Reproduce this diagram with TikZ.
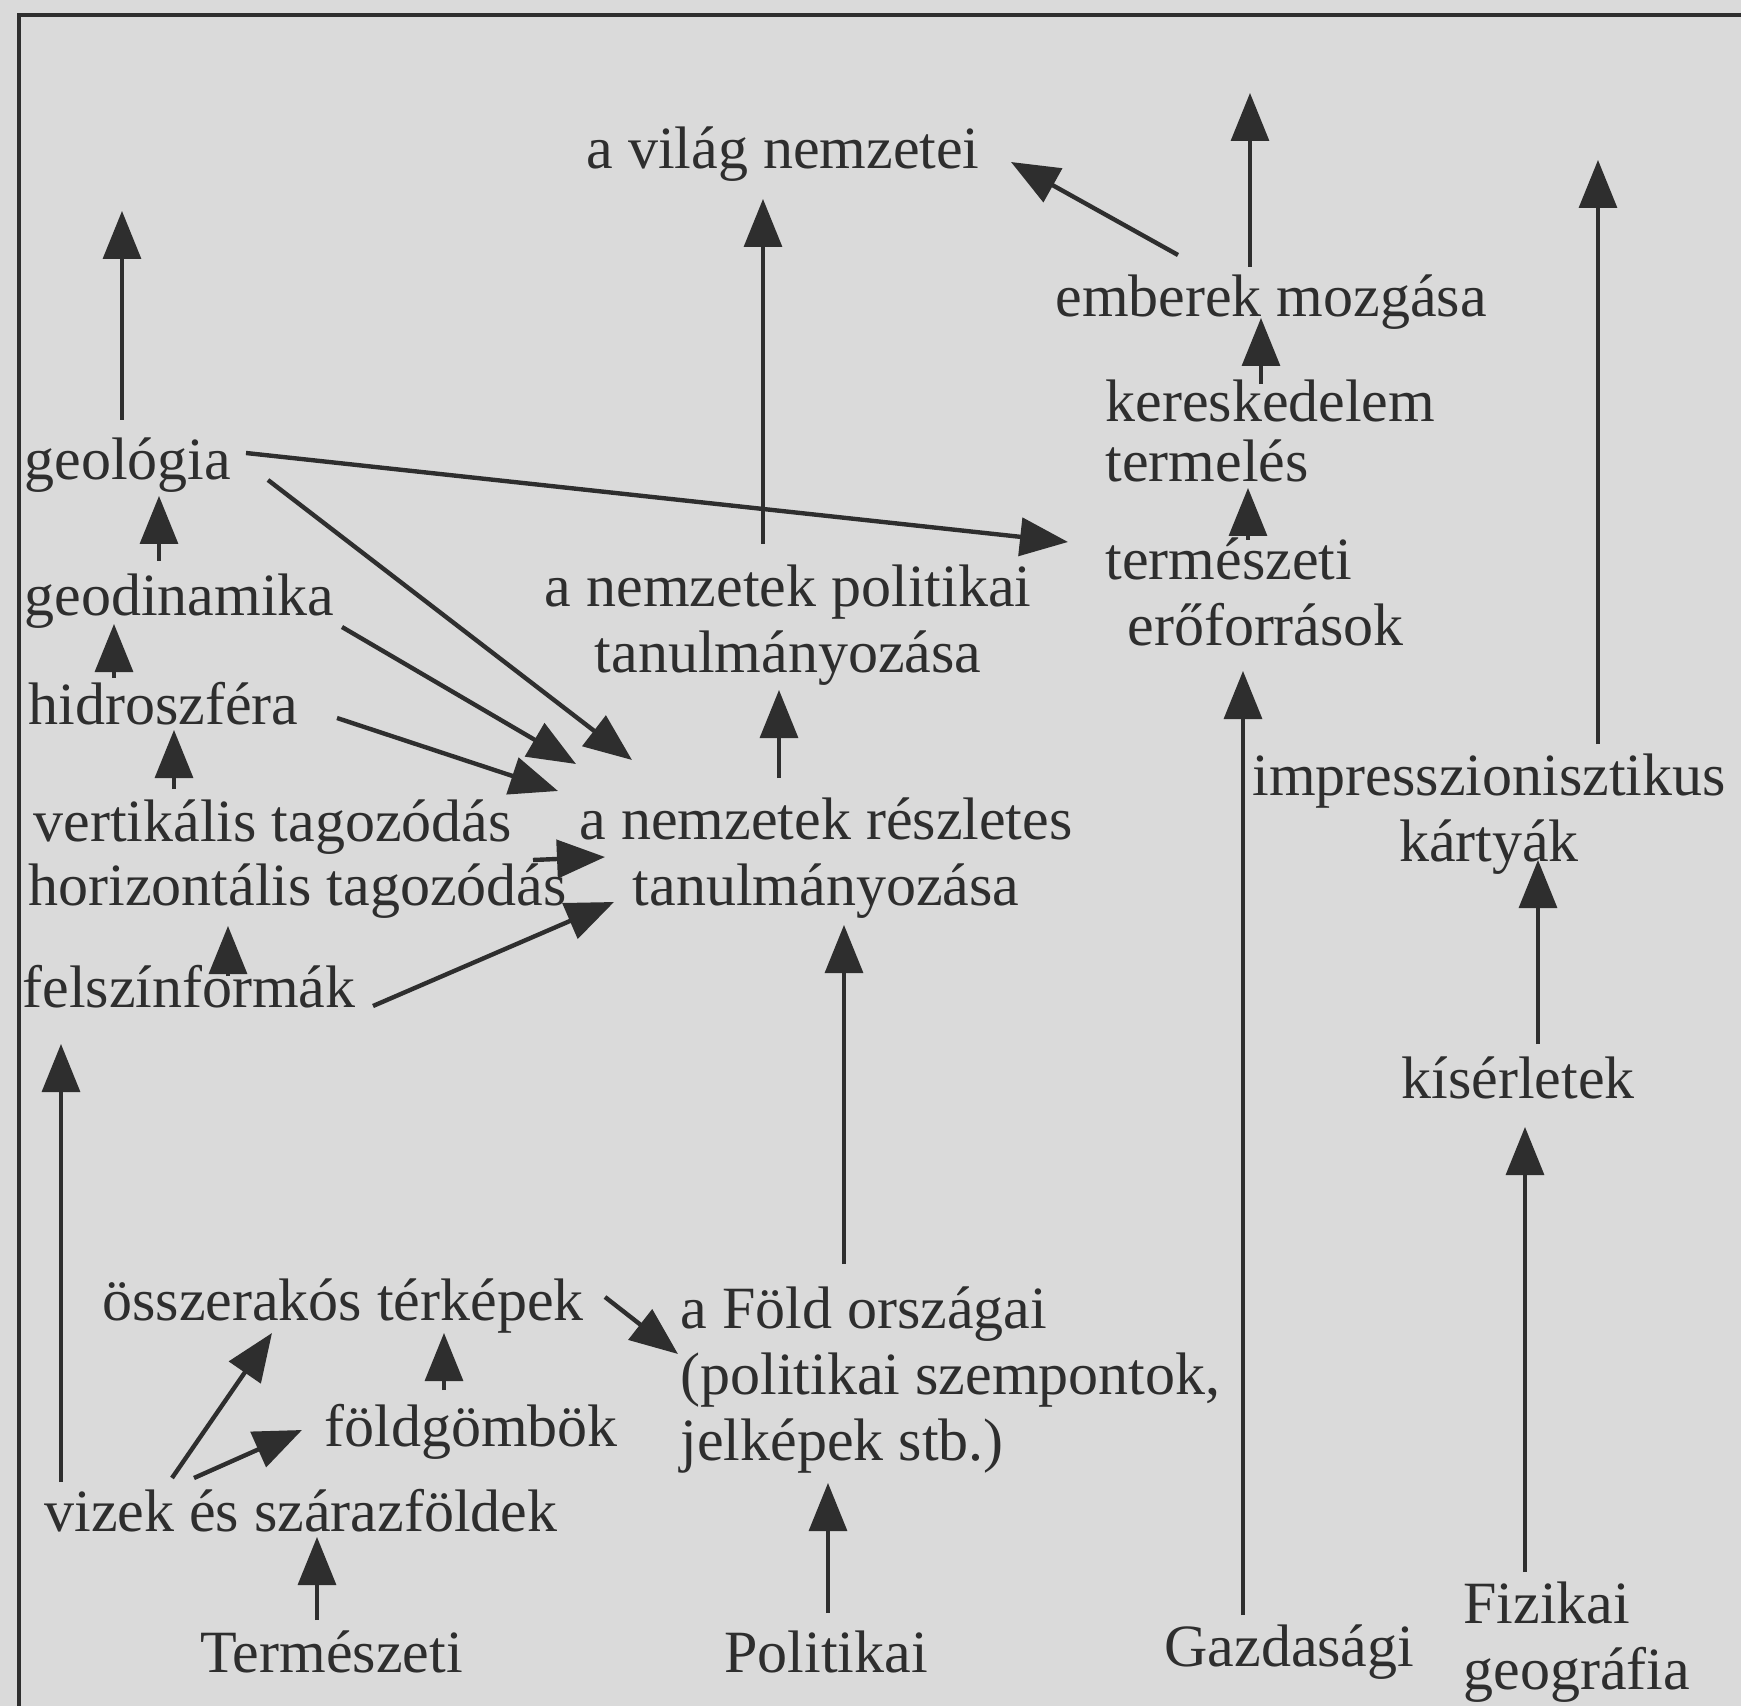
\documentclass[tikz,border=0pt]{standalone}
\usepackage{fontspec}
\setmainfont{Liberation Serif}
\usetikzlibrary{arrows.meta}
\definecolor{bg}{HTML}{DADADA}
\definecolor{ink}{HTML}{2E2E2E}
\begin{document}
\begin{tikzpicture}[x=0.5pt,y=-0.5pt,
  lbl/.style={inner sep=0pt, text=ink, font=\fontsize{30}{33}\selectfont, anchor=base west},
  arr/.style={draw=ink, line width=1.6pt, -{Triangle[length=24pt,width=19pt]}},
  darr/.style={arr, line width=2.2pt}]
\fill[bg] (0,0) rectangle (1741,1706);
\useasboundingbox (0,0) rectangle (1741,1706);
\draw[ink, line width=2pt] (19,1706) -- (19,15) -- (1741,15);

% labels (multi-line nodes: base = baseline of last line)
\node[lbl] (vilag) at (586,169) {a világ nemzetei};
\node[lbl] (emberek) at (1055,317) {emberek mozgása};
\node[lbl, align=left] (keresk) at (1105,482) {kereskedelem\\[-3pt]termelés};
\node[lbl, align=left] (termesz) at (1105,646) {természeti\\\hspace*{11pt}erőforrások};
\node[lbl] (geologia) at (24,480) {geológia};
\node[lbl] (geodin) at (24,616) {geodinamika};
\node[lbl] (hidro) at (28,724) {hidroszféra};
\node[lbl] (vert) at (33,841) {vertikális tagozódás};
\node[lbl] (horiz) at (28,905) {horizontális tagozódás};
\node[lbl] (felszin) at (22,1007) {felszínformák};
\node[lbl, align=center, anchor=base] (polit) at (788,672) {a nemzetek politikai\\tanulmányozása};
\node[lbl, align=center, anchor=base] (reszl) at (826,905) {a nemzetek részletes\\tanulmányozása};
\node[lbl, align=center, anchor=base] (impr) at (1489,861) {impresszionisztikus\\kártyák};
\node[lbl] (kiserl) at (1401,1098) {kísérletek};
\node[lbl] (osszer) at (102,1320) {összerakós térképek};
\node[lbl, align=left] (fold) at (680,1460) {a Föld országai\\(politikai szempontok,\\jelképek stb.)};
\node[lbl] (foldgomb) at (324,1446) {földgömbök};
\node[lbl] (vizek) at (44,1531) {vizek és szárazföldek};
\node[lbl] (termeszeti) at (200,1672) {Természeti};
\node[lbl] (politikai) at (724,1672) {Politikai};
\node[lbl] (gazdasagi) at (1164,1666) {Gazdasági};
\node[lbl, align=left] (fizikai) at (1463,1689) {Fizikai\\geográfia};

% connector end points
\coordinate (geologia-up) at (122,420);   \coordinate (geologia-top) at (122,211);
\coordinate (geodin-o) at (159,561);      \coordinate (geologia-i) at (159,496);
\coordinate (hidro-o) at (114,678);       \coordinate (geodin-i) at (114,624);
\coordinate (vert-o) at (174,789);        \coordinate (hidro-i) at (174,730);
\coordinate (felszin-o) at (228,976);     \coordinate (horiz-i) at (228,926);
\coordinate (vizek-o1) at (61,1482);      \coordinate (felszin-i) at (61,1044);
\coordinate (termeszeti-o) at (317,1620); \coordinate (vizek-i) at (317,1537);
\coordinate (vizek-o2) at (172,1478);     \coordinate (osszer-i1) at (272,1333);
\coordinate (vizek-o3) at (194,1478);     \coordinate (foldgomb-i) at (302,1430);
\coordinate (foldgomb-o) at (444,1390);   \coordinate (osszer-i2) at (444,1333);
\coordinate (osszer-o) at (605,1297);     \coordinate (fold-i1) at (678,1354);
\coordinate (politikai-o) at (828,1613);  \coordinate (fold-i2) at (828,1483);
\coordinate (fold-o) at (844,1264);       \coordinate (reszl-i1) at (844,925);
\coordinate (reszl-o) at (779,778);       \coordinate (polit-i) at (779,690);
\coordinate (polit-o) at (763,544);       \coordinate (vilag-i1) at (763,199);
\coordinate (geologia-o1) at (268,480);   \coordinate (reszl-i2) at (632,760);
\coordinate (geodin-o2) at (342,627);     \coordinate (reszl-i3) at (576,764);
\coordinate (hidro-o2) at (337,718);      \coordinate (reszl-i4) at (558,791);
\coordinate (vert-o2) at (533,860);       \coordinate (reszl-i5) at (605,857);
\coordinate (felszin-o2) at (373,1006);   \coordinate (reszl-i6) at (614,902);
\coordinate (geologia-o2) at (246,453);   \coordinate (termesz-i) at (1068,542);
\coordinate (termesz-o) at (1248,540);    \coordinate (keresk-i) at (1248,488);
\coordinate (keresk-o) at (1261,384);     \coordinate (emberek-i) at (1261,318);
\coordinate (emberek-o1) at (1250,267);   \coordinate (emberek-top) at (1250,93);
\coordinate (emberek-o2) at (1178,255);   \coordinate (vilag-i2) at (1011,162);
\coordinate (gazdasagi-o) at (1243,1615); \coordinate (termesz-i2) at (1243,671);
\coordinate (impr-o) at (1598,744);       \coordinate (impr-top) at (1598,160);
\coordinate (kiserl-o) at (1538,1044);    \coordinate (impr-i) at (1538,860);
\coordinate (fizikai-o) at (1525,1572);   \coordinate (kiserl-i) at (1525,1127);

% connectors
\draw[arr] (geologia-up) -- (geologia-top);
\draw[arr] (geodin-o) -- (geologia-i);
\draw[arr] (hidro-o) -- (geodin-i);
\draw[arr] (vert-o) -- (hidro-i);
\draw[arr] (felszin-o) -- (horiz-i);
\draw[arr] (vizek-o1) -- (felszin-i);
\draw[arr] (termeszeti-o) -- (vizek-i);
\draw[darr] (vizek-o2) -- (osszer-i1);
\draw[darr] (vizek-o3) -- (foldgomb-i);
\draw[arr] (foldgomb-o) -- (osszer-i2);
\draw[darr] (osszer-o) -- (fold-i1);
\draw[arr] (politikai-o) -- (fold-i2);
\draw[arr] (fold-o) -- (reszl-i1);
\draw[arr] (reszl-o) -- (polit-i);
\draw[arr] (polit-o) -- (vilag-i1);
\draw[darr] (geologia-o1) -- (reszl-i2);
\draw[darr] (geodin-o2) -- (reszl-i3);
\draw[darr] (hidro-o2) -- (reszl-i4);
\draw[darr] (vert-o2) -- (reszl-i5);
\draw[darr] (felszin-o2) -- (reszl-i6);
\draw[darr] (geologia-o2) -- (termesz-i);
\draw[arr] (termesz-o) -- (keresk-i);
\draw[arr] (keresk-o) -- (emberek-i);
\draw[arr] (emberek-o1) -- (emberek-top);
\draw[darr] (emberek-o2) -- (vilag-i2);
\draw[arr] (gazdasagi-o) -- (termesz-i2);
\draw[arr] (impr-o) -- (impr-top);
\draw[arr] (kiserl-o) -- (impr-i);
\draw[arr] (fizikai-o) -- (kiserl-i);
\end{tikzpicture}
\end{document}
